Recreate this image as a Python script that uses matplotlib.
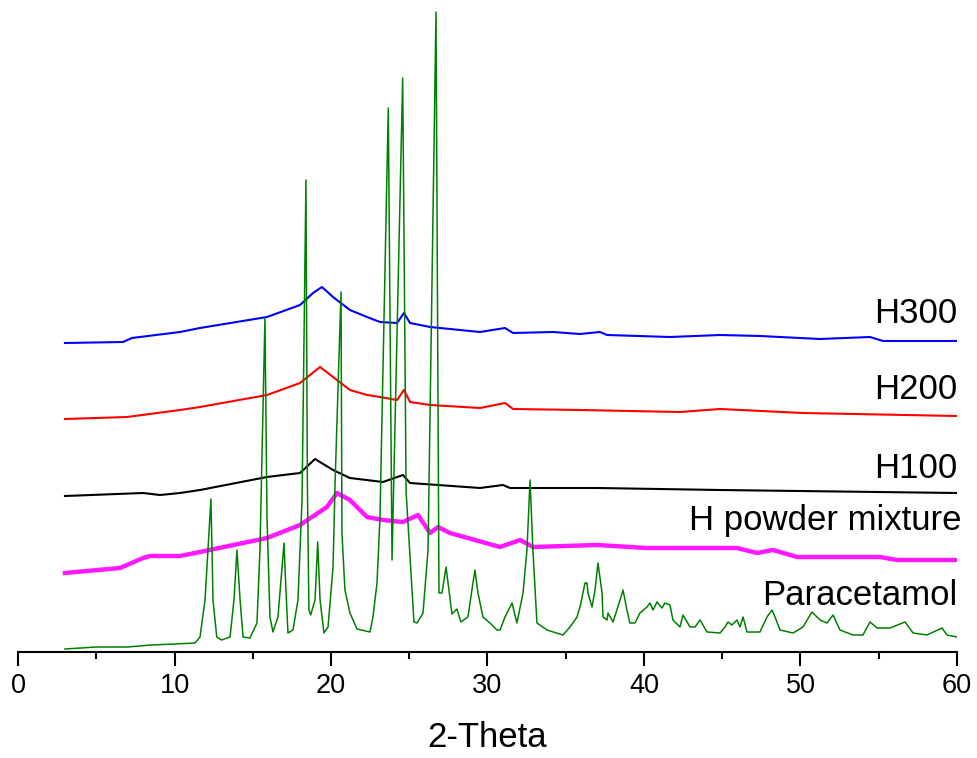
import matplotlib
matplotlib.use("Agg")
import matplotlib.pyplot as plt

plt.rcParams['font.family'] = ['Liberation Sans', 'DejaVu Sans']

# ---- data (2-Theta, stacked intensity a.u.) ----
para_x = [3.0, 5.0, 7.0, 8.5, 10.0, 11.31, 11.63, 11.95, 12.14, 12.33, 12.46, 12.70, 13.0, 13.55, 13.80,
          13.99, 14.19, 14.38, 14.82, 15.27, 15.46, 15.78, 15.91, 16.10, 16.29, 16.61, 16.87, 17.0,
          17.12, 17.25, 17.57, 17.89, 18.15, 18.40, 18.49, 18.59, 18.70, 18.98, 19.15, 19.30, 19.55,
          19.81, 20.13, 20.26, 20.64, 20.70, 20.89, 21.21, 21.66, 22.49, 22.68, 22.94, 23.13, 23.66,
          23.90, 24.58, 24.80, 25.30, 25.50, 25.88, 26.20, 26.71, 26.90, 27.09, 27.35, 27.73, 28.05,
          28.30, 28.75, 29.07, 29.20, 29.39, 29.71, 30.16, 30.60, 30.80, 31.12, 31.57, 31.88, 32.27,
          32.52, 32.72, 32.90, 33.16, 33.80, 34.82, 35.27, 35.72, 35.91, 36.23, 36.36, 36.42, 36.68,
          36.87, 37.06, 37.32, 37.38, 37.64, 37.70, 38.02, 38.47, 38.66, 38.91, 39.10, 39.42, 39.74,
          40.19, 40.38, 40.58, 40.83, 41.15, 41.34, 41.66, 41.85, 42.30, 42.49, 42.94, 43.26, 43.58,
          44.03, 44.86, 45.18, 45.37, 45.62, 45.94, 46.13, 46.33, 46.58, 47.41, 47.86, 48.18, 48.37,
          48.69, 49.52, 50.16, 50.73, 51.05, 51.25, 51.69, 52.08, 52.52, 53.35, 53.99, 54.44, 54.89,
          55.72, 56.68, 57.19, 58.08, 59.04, 59.36, 60.0]
para_y = [3, 5, 5, 7, 8, 9, 15, 52, 102, 153, 52, 15, 12, 15, 52,
          102, 52, 15, 14, 29, 102, 334, 135, 35, 20, 35, 85, 109,
          62, 19, 22, 52, 152, 472, 169, 42, 37, 52, 110, 52, 19,
          25, 85, 169, 360, 119, 62, 39, 23, 20, 35, 69, 135, 544,
          92, 574, 160, 30, 29, 39, 102, 640, 59, 59, 85, 38, 43,
          30, 35, 69, 82, 59, 35, 29, 22, 22, 35, 49, 29, 59,
          102, 172, 102, 29, 22, 17, 25, 35, 45, 69, 69, 59, 45,
          62, 89, 59, 35, 32, 39, 30, 52, 62, 42, 29, 29, 39,
          45, 49, 42, 50, 44, 49, 47, 32, 25, 37, 25, 25, 32,
          20, 19, 25, 30, 27, 32, 25, 35, 20, 20, 35, 42, 35,
          22, 19, 25, 40, 35, 32, 29, 37, 22, 17, 17, 30, 24,
          24, 30, 19, 17, 24, 17, 15]

mix_x = [3.0, 6.52, 7.99, 8.43, 10.35, 11.63, 15.91, 18.02, 19.74, 20.38, 21.21, 22.30, 23.32, 24.60,
         25.56, 26.33, 26.84, 27.60, 30.80, 32.08, 32.91, 37.0, 40.19, 45.94, 47.22, 48.24, 49.78,
         55.08, 56.17, 60.0]
mix_y = [79, 84, 94, 96, 96, 100, 114, 127, 145, 159, 152, 135, 132, 130,
         137, 119, 125, 119, 105, 112, 105, 107, 104, 104, 99, 102, 95,
         95, 92, 92]

h100_x = [3.0, 7.99, 9.07, 10.35, 11.63, 15.91, 18.02, 18.98, 20.13, 21.21, 23.32, 24.60, 25.05,
          29.52, 30.99, 31.44, 37.0, 44.86, 60.0]
h100_y = [156, 159, 157, 159, 162, 175, 179, 193, 182, 174, 170, 177, 169,
          164, 167, 164, 164, 162, 159]

h200_x = [3.0, 6.96, 10.35, 11.63, 15.91, 18.02, 19.30, 20.13, 21.21, 22.30, 23.13, 24.22, 24.66,
          25.05, 26.33, 29.52, 31.12, 31.63, 35.91, 42.30, 44.86, 50.16, 60.0]
h200_y = [233, 235, 242, 245, 257, 269, 285, 275, 262, 257, 255, 252, 262,
          250, 247, 244, 249, 243, 242, 240, 243, 239, 236]

h300_x = [3.0, 6.71, 7.28, 10.35, 11.63, 15.91, 18.02, 18.85, 19.42, 20.13, 21.21, 22.30, 23.13,
          24.22, 24.66, 25.05, 26.33, 29.52, 31.12, 31.63, 34.19, 35.91, 37.19, 37.64, 41.66, 44.86,
          47.41, 51.25, 54.44, 55.27, 60.0]
h300_y = [309, 310, 314, 320, 324, 335, 347, 359, 365, 355, 342, 335, 330,
          329, 339, 329, 325, 320, 324, 319, 320, 318, 320, 317, 315, 317,
          316, 313, 315, 311, 311]

labels = ["H300", "H200", "H100", "H powder mixture", "Paracetamol"]
label_y = [329, 253, 174, 122, 47]
label_x = [60.0, 60.0, 60.0, 60.3, 60.0]

x_ticks = [0, 10, 20, 30, 40, 50, 60]
x_minor = [5, 15, 25, 35, 45, 55]

# ---- figure ----
fig = plt.figure(figsize=(9.78, 7.58), dpi=100)
ax = fig.add_axes([18 / 978, 106 / 758, 939 / 978, 652 / 758])

ax.plot(mix_x, mix_y, color='#FF00FF', lw=3.2, alpha=0.9, zorder=2,
        solid_joinstyle='round')
ax.plot(h100_x, h100_y, color='black', lw=1.5, zorder=3, solid_joinstyle='round')
ax.plot(h200_x, h200_y, color='#FF0000', lw=1.5, zorder=3, solid_joinstyle='round')
ax.plot(h300_x, h300_y, color='#0000FF', lw=1.5, zorder=3, solid_joinstyle='round')
ax.plot(para_x, para_y, color='#008000', lw=1.1, zorder=4, solid_joinstyle='round')

for lab, lx, ly in zip(labels, label_x, label_y):
    ax.text(lx, ly, lab, ha='right', va='baseline', fontsize=25, color='black')

ax.set_xlim(0, 60)
ax.set_ylim(0, 652)
ax.set_xticks(x_ticks)
ax.set_xticks(x_minor, minor=True)
ax.set_yticks([])
for s in ['top', 'right', 'left']:
    ax.spines[s].set_visible(False)
ax.spines['bottom'].set_linewidth(1.5)
ax.tick_params(axis='x', which='major', length=10, width=1.5, direction='out',
               labelsize=19.5, pad=5)
ax.tick_params(axis='x', which='minor', length=5, width=1.5, direction='out')
ax.set_xlabel("2-Theta", fontsize=25, labelpad=16)
ax.patch.set_alpha(0)

fig.savefig("out.png", dpi=100)
